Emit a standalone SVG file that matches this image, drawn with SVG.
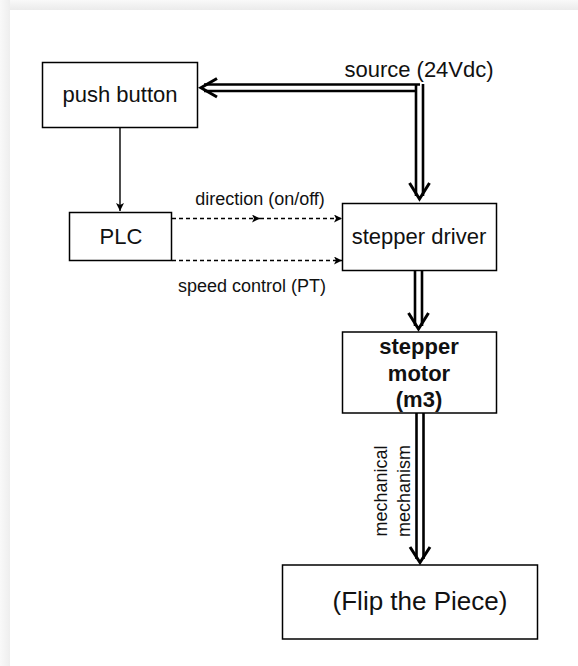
<svg xmlns="http://www.w3.org/2000/svg" width="578" height="666" viewBox="0 0 578 666">
  <defs>
    <linearGradient id="shadeTop" x1="0" y1="0" x2="0" y2="1">
      <stop offset="0" stop-color="#f9f9f9"/>
      <stop offset="1" stop-color="#ebebeb"/>
    </linearGradient>
    <linearGradient id="shadeLeft" x1="0" y1="0" x2="1" y2="0">
      <stop offset="0" stop-color="#f9f9f9"/>
      <stop offset="1" stop-color="#eeeeee"/>
    </linearGradient>
    <marker id="tri" viewBox="0 0 10 10" refX="10" refY="5" markerWidth="10" markerHeight="8" markerUnits="userSpaceOnUse" orient="auto">
      <path d="M0,0 L10,5 L0,10 L2.5,5 Z" fill="#000"/>
    </marker>
    <style>
      .box { fill: #fff; stroke: #000; stroke-width: 1.5; }
      .lbl { font-family: "Liberation Sans", Arial, sans-serif; font-size: 22px; fill: #111; text-anchor: middle; }
      .bold { font-weight: bold; }
      .small { font-family: "Liberation Sans", Arial, sans-serif; font-size: 18px; fill: #111; text-anchor: middle; }
      .thin { fill: none; stroke: #000; stroke-width: 1.4; }
      .dash { fill: none; stroke: #000; stroke-width: 1.4; stroke-dasharray: 4 3; }
      .dbl { fill: none; stroke: #000; stroke-width: 2.6; }
      .chev { fill: none; stroke: #000; stroke-width: 3; stroke-linejoin: miter; }
    </style>
  </defs>

  <!-- page background and card -->
  <rect x="0" y="0" width="578" height="666" fill="#f6f6f6"/>
  <rect x="0" y="0" width="578" height="10" fill="url(#shadeTop)"/>
  <rect x="0" y="0" width="10" height="666" fill="url(#shadeLeft)"/>
  <rect x="10" y="10" width="568" height="656" fill="#fff"/>

  <!-- connectors -->
  <g id="connectors">
    <!-- supply: double line to push button and down to driver -->
    <line class="dbl" x1="204" y1="84.5" x2="420" y2="84.5"/>
    <line class="dbl" x1="204" y1="91" x2="417" y2="91"/>
    <polyline class="chev" points="217,78.5 201,87.8 217,97"/>
    <line class="dbl" x1="416" y1="84" x2="416" y2="196"/>
    <line class="dbl" x1="423" y1="84" x2="423" y2="196"/>
    <polyline class="chev" points="409.5,183 419.5,199 429.5,183"/>

    <!-- push button to PLC -->
    <line class="thin" x1="120" y1="127" x2="120" y2="211" marker-end="url(#tri)"/>

    <!-- PLC to driver, dashed signals -->
    <line class="dash" x1="172" y1="218.5" x2="260" y2="218.5" marker-end="url(#tri)"/>
    <line class="dash" x1="260" y1="218.5" x2="342" y2="218.5" marker-end="url(#tri)"/>
    <line class="dash" x1="172" y1="260.5" x2="342" y2="260.5" marker-end="url(#tri)"/>

    <!-- driver to motor -->
    <line class="dbl" x1="415" y1="270" x2="415" y2="326"/>
    <line class="dbl" x1="422" y1="270" x2="422" y2="326"/>
    <polyline class="chev" points="408.5,313 418.5,329 428.5,313"/>

    <!-- motor to flip -->
    <line class="dbl" x1="416.5" y1="413" x2="416.5" y2="559"/>
    <line class="dbl" x1="423.5" y1="413" x2="423.5" y2="559"/>
    <polyline class="chev" points="410,547 420,562.5 430,547"/>

    <!-- connector labels -->
    <text class="lbl" x="419" y="77">source (24Vdc)</text>
    <text class="small" x="260" y="205">direction (on/off)</text>
    <text class="small" x="252" y="292">speed control (PT)</text>
    <text class="small" transform="translate(387,491) rotate(-90)">mechanical</text>
    <text class="small" transform="translate(410,491) rotate(-90)">mechanism</text>
  </g>

  <g id="push-button">
    <rect class="box" x="42.5" y="62.5" width="155" height="65"/>
    <text class="lbl" x="120" y="102">push button</text>
  </g>

  <g id="plc">
    <rect class="box" x="69.5" y="212.5" width="102" height="48"/>
    <text class="lbl" x="121" y="244">PLC</text>
  </g>

  <g id="stepper-driver">
    <rect class="box" x="342.5" y="203.5" width="154" height="67"/>
    <text class="lbl" x="419" y="244">stepper driver</text>
  </g>

  <g id="stepper-motor">
    <rect class="box" x="342.5" y="332" width="154" height="81"/>
    <text class="lbl bold" x="419" y="354">stepper</text>
    <text class="lbl bold" x="419" y="381">motor</text>
    <text class="lbl bold" x="419" y="407">(m3)</text>
  </g>

  <g id="flip-piece">
    <rect class="box" x="282.5" y="565" width="255" height="74"/>
    <text class="lbl" x="420" y="610" style="font-size:26px">(Flip the Piece)</text>
  </g>
</svg>
